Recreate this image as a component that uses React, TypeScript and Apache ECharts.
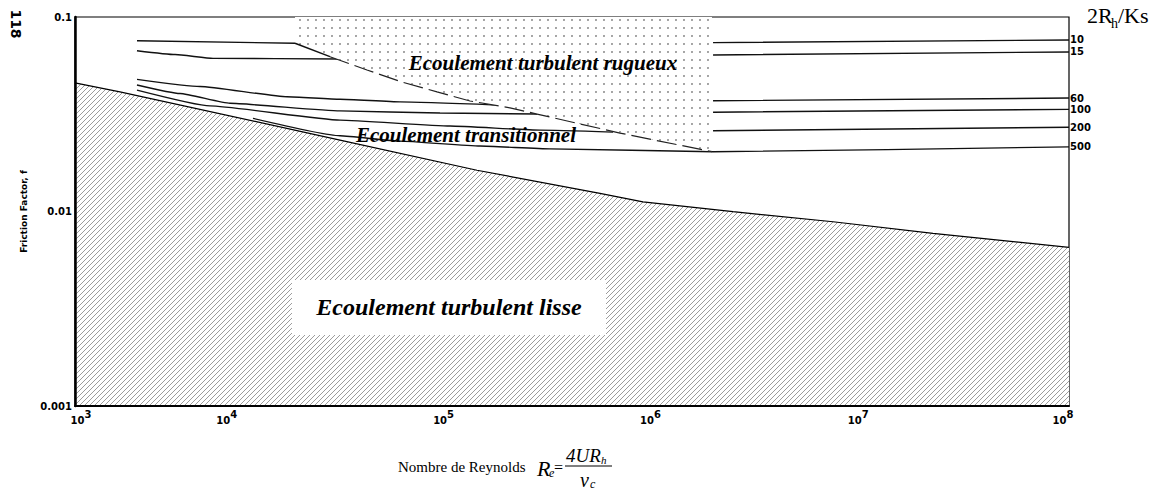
import { useEffect, useRef } from 'react';
import * as echarts from 'echarts';

// ---------------- data ----------------
const xTickExponents = [3, 4, 5, 6, 7, 8];
const yTickLabels = ['0.001', '0.01', '0.1'];

// limit of the smooth turbulent regime (hatched below)
const smoothLimitRe = [1000, 1683, 21530, 105200, 437300, 719500, 2041000, 6501000, 20700000, 100000000];
const smoothLimitF = [0.0458, 0.0412, 0.0233, 0.0163, 0.0124, 0.0112, 0.00998, 0.00886, 0.00772, 0.00654];

// limit of the rough turbulent regime (dotted zone above)
const roughLimitRe = [12785, 19170, 29430, 44150, 66210, 97030, 154200, 210900, 551200, 1600000];
const roughLimitF = [0.0733, 0.0625, 0.0534, 0.0463, 0.0412, 0.037, 0.0341, 0.0317, 0.0253, 0.0203];
const roughZoneTopF = 0.1;

// curves 2Rh/Ks  (null = hidden under the rough zone)
const ratioLabels = ['10', '15', '60', '100', '200', '500'];
const ratio10 = [[2050, 0.0755], [12785, 0.0733], null, [1620000, 0.0738], [100000000, 0.0762]];
const ratio15 = [[2050, 0.0671], [3185, 0.0641], [4946, 0.0613], [21530, 0.0608], null, [1620000, 0.0638], [100000000, 0.0661]];
const ratio60 = [[2050, 0.0478], [4255, 0.0439], [11650, 0.0389], [21530, 0.0378], [43140, 0.0366], [132700, 0.0353], null, [1620000, 0.0371], [100000000, 0.0383]];
const ratio100 = [[2050, 0.0447], [3375, 0.0404], [6022, 0.036], [21530, 0.0329], [68550, 0.0321], [210900, 0.0317], null, [1620000, 0.0324], [100000000, 0.0335]];
const ratio200 = [[2050, 0.0421], [4776, 0.0349], [21530, 0.0295], [76970, 0.0275], [218300, 0.0262], [508400, 0.0256], null, [1620000, 0.026], [100000000, 0.0271]];
const ratio500 = [[7860, 0.0301], [21530, 0.0245], [43140, 0.023], [108900, 0.0217], [245100, 0.021], [1620000, 0.0203], [100000000, 0.0215]];
const ratioCurves = [ratio10, ratio15, ratio60, ratio100, ratio200, ratio500];

// ---------------- styles ----------------
const SANS = 'DejaVu Sans';
const SERIF = 'Liberation Serif';
// horizontal shift (px) of each decade label, as printed on the original figure
const X_LABEL_SHIFT: Record<number, number> = { 3: 6, 4: -47, 5: -29, 6: -21, 7: -12, 8: -6 };

function makeHatch() {
  const c = document.createElement('canvas');
  c.width = 5;
  c.height = 5;
  const g = c.getContext('2d')!;
  g.fillStyle = '#ffffff';
  g.fillRect(0, 0, 5, 5);
  g.strokeStyle = '#9c9c9c';
  g.lineWidth = 1;
  g.beginPath();
  g.moveTo(-1, 6); g.lineTo(6, -1);
  g.moveTo(-1, 1); g.lineTo(1, -1);
  g.moveTo(4, 6); g.lineTo(6, 4);
  g.stroke();
  return c;
}

function makeDots() {
  const c = document.createElement('canvas');
  c.width = 8;
  c.height = 8;
  const g = c.getContext('2d')!;
  g.fillStyle = '#ffffff';
  g.fillRect(0, 0, 8, 8);
  g.fillStyle = '#8f8f8f';
  g.beginPath();
  g.arc(4, 4, 1.05, 0, Math.PI * 2);
  g.fill();
  return c;
}

function toSeriesData(pts: (number[] | null)[]) {
  const out: any[] = [];
  pts.forEach((p, i) => {
    if (p) out.push(p);
    else out.push([(pts[i - 1] as number[])[0], '-']);
  });
  return out;
}

export default function App() {
  const ref = useRef<HTMLDivElement>(null);

  useEffect(() => {
    if (!ref.current) return;
    const chart = echarts.init(ref.current, null, { renderer: 'svg' });

    const hatch = makeHatch();
    const dots = makeDots();
    const hatchPattern: any = { image: hatch, repeat: 'repeat', imageWidth: 5, imageHeight: 5 };
    const dotPattern: any = { image: dots, repeat: 'repeat', imageWidth: 8, imageHeight: 8 };

    const smoothData = smoothLimitRe.map((r, i) => [r, smoothLimitF[i]]);
    const roughData = roughLimitRe.map((r, i) => [r, roughLimitF[i]]);
    const lastRough = roughLimitRe.length - 1;
    const roughPolygon: number[][] = [
      [roughLimitRe[0], roughZoneTopF],
      [roughLimitRe[lastRough], roughZoneTopF],
      ...roughData.slice().reverse(),
    ];

    const xRich: any = {
      b: { fontFamily: SANS, fontWeight: 'bold', fontSize: 10, color: '#000', padding: [6, 0, 0, 0] },
      s: { fontFamily: SANS, fontWeight: 'bold', fontSize: 10, color: '#000', padding: [0, 0, 6, 0] },
    };
    xTickExponents.forEach((n) => {
      const sh = X_LABEL_SHIFT[n] || 0;
      xRich['pad' + n] = { width: Math.abs(sh) * 2, height: 10 };
    });

    const curveSeries = ratioCurves.map((pts, i) => ({
      type: 'line',
      name: ratioLabels[i],
      data: toSeriesData(pts),
      showSymbol: false,
      symbol: 'none',
      smooth: 0.15,
      smoothMonotone: 'x',
      connectNulls: false,
      z: 2,
      silent: true,
      lineStyle: { color: '#111', width: 1.4 },
      endLabel: {
        show: true,
        formatter: '{a}',
        distance: 1,
        color: '#000',
        fontFamily: SANS,
        fontWeight: 'bold',
        fontSize: 10,
      },
    }));

    const option: any = {
      animation: false,
      backgroundColor: '#ffffff',
      grid: {
        left: 75,
        top: 17,
        width: 994,
        height: 389,
        show: true,
        borderColor: '#000',
        borderWidth: 1.2,
        backgroundColor: 'transparent',
        containLabel: false,
        outerBoundsMode: 'none',
      },
      xAxis: {
        type: 'log',
        logBase: 10,
        min: 1000,
        max: 100000000,
        z: 10,
        zlevel: 1,
        axisLine: { show: true, lineStyle: { color: '#000', width: 2 } },
        axisTick: { show: false },
        splitLine: { show: false },
        minorTick: { show: false },
        axisLabel: {
          show: true,
          margin: 3,
          showMinLabel: true,
          showMaxLabel: true,
          formatter: (v: number) => {
            const n = Math.round(Math.log10(v));
            const sh = X_LABEL_SHIFT[n] || 0;
            const core = `{b|10}{s|${n}}`;
            if (sh > 0) return `{pad${n}|}${core}`;
            if (sh < 0) return `${core}{pad${n}|}`;
            return core;
          },
          rich: xRich,
        },
      },
      yAxis: {
        type: 'log',
        logBase: 10,
        min: 0.001,
        max: 0.1,
        z: 10,
        zlevel: 1,
        name: 'Friction Factor, f',
        nameLocation: 'middle',
        nameGap: 47,
        nameRotate: 90,
        nameTextStyle: { fontFamily: SANS, fontWeight: 'bold', fontSize: 9, color: '#000' },
        axisLine: { show: true, lineStyle: { color: '#000', width: 2.5 } },
        axisTick: { show: false },
        splitLine: { show: false },
        axisLabel: {
          margin: 3,
          showMinLabel: true,
          showMaxLabel: true,
          fontFamily: SANS,
          fontWeight: 'bold',
          fontSize: 10,
          color: '#000',
          formatter: (v: number) => yTickLabels[Math.round(Math.log10(v)) + 3] ?? '',
        },
      },
      series: [
        {
          type: 'line',
          name: 'smooth',
          data: smoothData,
          showSymbol: false,
          symbol: 'none',
          silent: true,
          z: 0,
          lineStyle: { color: '#000', width: 1.2 },
          areaStyle: { color: hatchPattern, origin: 'start', opacity: 1 },
        },
        ...curveSeries,
        {
          type: 'custom',
          name: 'roughZone',
          coordinateSystem: 'cartesian2d',
          silent: true,
          z: 3,
          data: [[roughLimitRe[0], roughZoneTopF]],
          renderItem: (_params: any, api: any) => ({
            type: 'polygon',
            shape: { points: roughPolygon.map((p) => api.coord(p)) },
            style: { fill: dotPattern, stroke: null },
          }),
        },
        {
          type: 'line',
          name: 'roughLimitSolid',
          data: roughData.slice(0, 2),
          showSymbol: false,
          symbol: 'none',
          silent: true,
          z: 4,
          lineStyle: { color: '#111', width: 1.4 },
        },
        {
          type: 'line',
          name: 'roughLimitDashed',
          data: roughData.slice(1),
          showSymbol: false,
          symbol: 'none',
          silent: true,
          z: 4,
          lineStyle: { color: '#222', width: 1.2, type: [20, 6] },
        },
      ],
      graphic: [
        {
          type: 'text', x: 16, y: 24, rotation: -Math.PI / 2, z: 100,
          style: { text: '118', fontFamily: SANS, fontWeight: 'bold', fontSize: 14, fill: '#000', align: 'center', verticalAlign: 'middle' },
        },
        {
          type: 'text', x: 543, y: 63, z: 100,
          style: { text: 'Ecoulement turbulent rugueux', fontFamily: SERIF, fontStyle: 'italic', fontWeight: 'bold', fontSize: 21, fill: '#000', align: 'center', verticalAlign: 'middle' },
        },
        {
          type: 'text', x: 466, y: 135, z: 100,
          style: { text: 'Ecoulement transitionnel', fontFamily: SERIF, fontStyle: 'italic', fontWeight: 'bold', fontSize: 21, fill: '#000', align: 'center', verticalAlign: 'middle' },
        },
        {
          type: 'rect', z: 99,
          shape: { x: 292, y: 280, width: 314, height: 55 },
          style: { fill: '#ffffff' },
        },
        {
          type: 'text', x: 449, y: 307, z: 100,
          style: { text: 'Ecoulement turbulent lisse', fontFamily: SERIF, fontStyle: 'italic', fontWeight: 'bold', fontSize: 24, fill: '#000', align: 'center', verticalAlign: 'middle' },
        },
        // 2Rh/Ks
        {
          type: 'text', x: 1087, y: 26, z: 100,
          style: { text: '2R', fontFamily: SERIF, fontSize: 22, fill: '#000', align: 'left', verticalAlign: 'bottom' },
        },
        {
          type: 'text', x: 1111, y: 30, z: 100,
          style: { text: 'h', fontFamily: SERIF, fontSize: 14, fill: '#000', align: 'left', verticalAlign: 'bottom' },
        },
        {
          type: 'text', x: 1118, y: 26, z: 100,
          style: { text: '/Ks', fontFamily: SERIF, fontSize: 22, fill: '#000', align: 'left', verticalAlign: 'bottom' },
        },
        // Nombre de Reynolds  Re = 4URh / nu_c
        {
          type: 'text', x: 398, y: 467, z: 100,
          style: { text: 'Nombre de Reynolds', fontFamily: SERIF, fontSize: 15, fill: '#000', align: 'left', verticalAlign: 'middle' },
        },
        {
          type: 'text', x: 537, y: 468, z: 100,
          style: { text: 'R', fontFamily: SERIF, fontStyle: 'italic', fontSize: 22, fill: '#000', align: 'left', verticalAlign: 'middle' },
        },
        {
          type: 'text', x: 549, y: 473, z: 100,
          style: { text: 'e', fontFamily: SERIF, fontStyle: 'italic', fontSize: 12, fill: '#000', align: 'left', verticalAlign: 'middle' },
        },
        {
          type: 'text', x: 554, y: 467, z: 100,
          style: { text: '=', fontFamily: SERIF, fontSize: 16, fill: '#000', align: 'left', verticalAlign: 'middle' },
        },
        {
          type: 'text', x: 566, y: 455, z: 100,
          style: { text: '4UR', fontFamily: SERIF, fontStyle: 'italic', fontSize: 19, fill: '#000', align: 'left', verticalAlign: 'middle' },
        },
        {
          type: 'text', x: 601, y: 460, z: 100,
          style: { text: 'h', fontFamily: SERIF, fontStyle: 'italic', fontSize: 11, fill: '#000', align: 'left', verticalAlign: 'middle' },
        },
        {
          type: 'line', z: 100,
          shape: { x1: 565, y1: 466, x2: 612, y2: 466 },
          style: { stroke: '#000', lineWidth: 1.2 },
        },
        {
          type: 'text', x: 580, y: 480, z: 100,
          style: { text: 'ν', fontFamily: SERIF, fontStyle: 'italic', fontSize: 20, fill: '#000', align: 'left', verticalAlign: 'middle' },
        },
        {
          type: 'text', x: 590, y: 484, z: 100,
          style: { text: 'c', fontFamily: SERIF, fontStyle: 'italic', fontSize: 12, fill: '#000', align: 'left', verticalAlign: 'middle' },
        },
      ],
    };

    chart.setOption(option);
    return () => chart.dispose();
  }, []);

  return (
    <div
      ref={ref}
      style={{ position: 'absolute', left: 0, top: 0, width: 1165, height: 491, background: '#fff' }}
    />
  );
}
